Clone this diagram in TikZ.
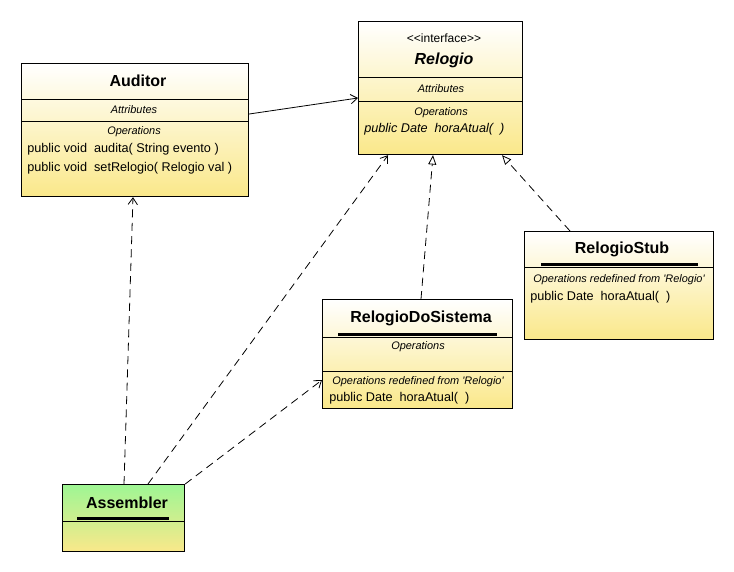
\documentclass[tikz,border=0pt]{standalone}
\usepackage{fontspec}
\setmainfont{Liberation Sans}
\usetikzlibrary{arrows.meta}
\definecolor{umlyellow}{RGB}{250,232,138}
\definecolor{umlgreen}{RGB}{158,246,148}
\tikzset{
  umlbox/.style={draw=black, line width=0.9pt, inner sep=0pt, anchor=north west, top color=white, bottom color=umlyellow},
  greenbox/.style={umlbox, top color=umlgreen, bottom color=umlyellow},
  ttl/.style={font=\fontsize{12}{14}\selectfont\bfseries, inner sep=0pt},
  ttlit/.style={font=\fontsize{12}{14}\selectfont\bfseries\itshape, inner sep=0pt},
  sml/.style={font=\fontsize{8.2}{10}\selectfont\itshape, inner sep=0pt},
  stereo/.style={font=\fontsize{9}{11}\selectfont, inner sep=0pt},
  op/.style={font=\fontsize{9.5}{11}\selectfont, inner sep=0pt, anchor=west},
  opit/.style={font=\fontsize{9.5}{11}\selectfont\itshape, inner sep=0pt, anchor=west},
  sep/.style={line width=0.6pt},
  bar/.style={line width=2.6pt},
  dep/.style={line width=0.6pt, dash pattern=on 6pt off 4pt, -{Straight Barb[length=5pt,width=7pt]}},
  real/.style={line width=0.6pt, dash pattern=on 6pt off 4pt, -{Triangle[open,length=7pt,width=6pt]}},
  assoc/.style={line width=0.6pt, -{Straight Barb[length=5pt,width=7pt]}}
}
\begin{document}
\begin{tikzpicture}[x=0.75pt,y=-0.75pt]
\useasboundingbox[fill=white] (0,0) rectangle (734,571);

% Auditor
\node[umlbox, minimum width=170.25pt, minimum height=99.75pt] (auditor) at (21,63) {};
\draw[sep] (21,99) -- (248,99);
\draw[sep] (21,121) -- (248,121);
\node[ttl] (auditorT) at (138,81) {Auditor};
\node[sml] (auditorA) at (134,110) {Attributes};
\node[sml] (auditorO) at (134,132) {Operations};
\node[op] (auditorO1) at (27,149) {public void\ \ audita( String evento )};
\node[op] (auditorO2) at (27,168) {public void\ \ setRelogio( Relogio val )};

% Relogio
\node[umlbox, minimum width=123pt, minimum height=99.75pt] (relogio) at (358,21) {};
\draw[sep] (358,77) -- (522,77);
\draw[sep] (358,101) -- (522,101);
\node[stereo] (relogioS) at (444,38) {<{}<interface>{}>};
\node[ttlit] (relogioT) at (444,60) {Relogio};
\node[sml] (relogioA) at (441,89) {Attributes};
\node[sml] (relogioO) at (441,113) {Operations};
\node[opit] (relogioO1) at (364,129) {public Date\ \ horaAtual(\ \ )};

% RelogioDoSistema
\node[umlbox, minimum width=142.5pt, minimum height=81.75pt] (rds) at (322,299) {};
\draw[bar] (338,334.5) -- (497,334.5);
\draw[sep] (322,337) -- (512,337);
\draw[sep] (322,371) -- (512,371);
\node[ttl] (rdsT) at (421,318) {RelogioDoSistema};
\node[sml] (rdsR0) at (418,347) {Operations};
\node[sml] (rdsR) at (418,382) {Operations redefined from \textquotesingle Relogio\textquotesingle};
\node[op] (rdsO1) at (329,398) {public Date\ \ horaAtual(\ \ )};

% RelogioStub
\node[umlbox, minimum width=141.75pt, minimum height=81pt] (stub) at (524,231) {};
\draw[bar] (541,264.5) -- (698,264.5);
\draw[sep] (524,267) -- (713,267);
\node[ttl] (stubT) at (622,249) {RelogioStub};
\node[sml] (stubR) at (619,280) {Operations redefined from \textquotesingle Relogio\textquotesingle};
\node[op] (stubO1) at (530,297) {public Date\ \ horaAtual(\ \ )};

% Assembler
\node[greenbox, minimum width=91.5pt, minimum height=50.25pt] (asm) at (62,484) {};
\draw[bar] (77,518.5) -- (169,518.5);
\draw[sep] (62,521) -- (184,521);
\node[ttl] (asmT) at (127,503) {Assembler};

% connectors
\draw[assoc] (auditor.east |- 0,114) -- (relogio.west |- 0,98);
\draw[dep] (asm.north -| 124,0) -- (auditor.south -| 133,0);
\draw[dep] (asm.north -| 148,0) -- (relogio.south -| 388,0);
\draw[dep] (asm.north east) -- (rds.west |- 0,380);
\draw[real] (rds.north -| 421,0) -- (relogio.south -| 433,0);
\draw[real] (stub.north -| 570,0) -- (relogio.south -| 502,0);
\end{tikzpicture}
\end{document}
